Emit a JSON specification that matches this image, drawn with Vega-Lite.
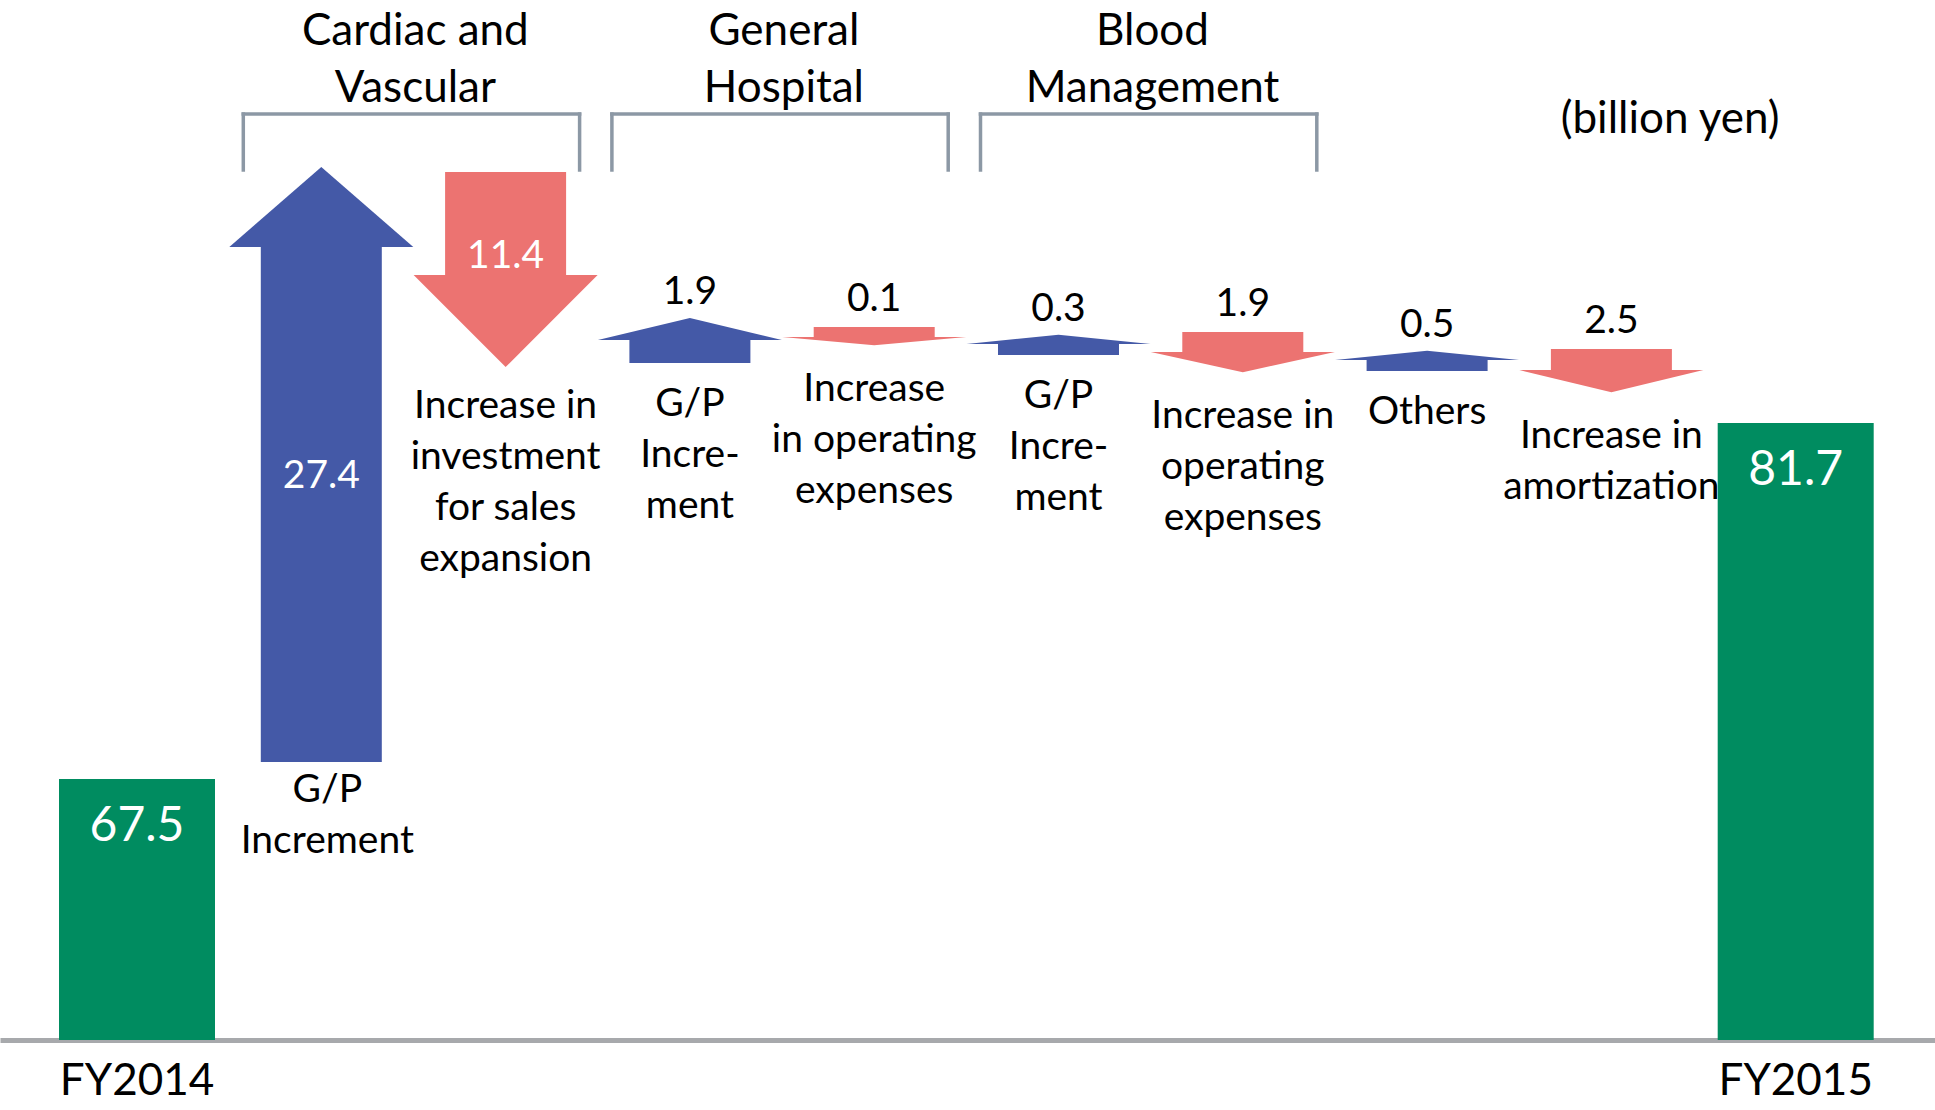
{
  "$schema": "https://vega.github.io/schema/vega-lite/v6.json",
  "width": 1935,
  "height": 1040,
  "autosize": {"type": "none"},
  "padding": {"left": 0, "top": 0, "right": 0, "bottom": 70},
  "background": "white",
  "config": {
    "view": {"stroke": null},
    "font": "Lato",
    "axisX": {
      "domain": true, "domainColor": "#A7A9AC", "domainWidth": 5,
      "ticks": false, "tickSize": 0, "grid": false,
      "labelExpr": "indexof(datum.label, 'FY') === 0 ? datum.label : ''",
      "labelFont": "Lato", "labelFontSize": 44, "labelColor": "#000000",
      "labelPadding": 54, "labelBaseline": "alphabetic", "labelAngle": 0,
      "labelOverlap": false, "labelBound": false, "labelFlush": false, "labelLimit": 0
    },
    "axisY": {
      "domain": false, "ticks": false, "labels": false, "grid": false,
      "titleAngle": 0, "titleX": 1779, "titleY": 132, "titleAlign": "right",
      "titleBaseline": "alphabetic", "titleFont": "Lato", "titleFontSize": 44,
      "titleFontWeight": "normal", "titleColor": "#000000"
    }
  },
  "datasets": {
    "steps": [
      {"step": "FY2014", "kind": "Total", "lines": "FY2014", "amount": 67.5},
      {"step": "Cardiac and Vascular: G/P Increment", "kind": "Increase", "lines": "G/P\nIncrement", "amount": 27.4, "start": 68.18, "neck": 88.72, "end": 91.91},
      {"step": "Cardiac and Vascular: Increase in investment for sales expansion", "kind": "Decrease", "lines": "Increase in\ninvestment\nfor sales\nexpansion", "amount": 11.4, "start": 91.71, "neck": 87.6, "end": 83.93},
      {"step": "General Hospital: G/P Increment", "kind": "Increase", "lines": "G/P\nIncre-\nment", "amount": 1.9, "start": 84.09, "neck": 85.01, "end": 85.89},
      {"step": "General Hospital: Increase in operating expenses", "kind": "Decrease", "lines": "Increase\nin operating\nexpenses", "amount": 0.1, "start": 85.53, "neck": 85.13, "end": 84.81},
      {"step": "Blood Management: G/P Increment", "kind": "Increase", "lines": "G/P\nIncre-\nment", "amount": 0.3, "start": 84.41, "neck": 84.85, "end": 85.21},
      {"step": "Blood Management: Increase in operating expenses", "kind": "Decrease", "lines": "Increase in\noperating\nexpenses", "amount": 1.9, "start": 85.33, "neck": 84.53, "end": 83.73},
      {"step": "Others", "kind": "Increase", "lines": "Others", "amount": 0.5, "start": 83.77, "neck": 84.21, "end": 84.57},
      {"step": "Increase in amortization", "kind": "Decrease", "lines": "Increase in\namortization", "amount": 2.5, "start": 84.65, "neck": 83.81, "end": 82.93},
      {"step": "FY2015", "kind": "Total", "lines": "FY2015", "amount": 81.7}
    ],
    "groups": [
      {"group": "Cardiac and Vascular", "lines": "Cardiac and\nVascular", "first": "Cardiac and Vascular: G/P Increment", "last": "Cardiac and Vascular: Increase in investment for sales expansion"},
      {"group": "General Hospital", "lines": "General\nHospital", "first": "General Hospital: G/P Increment", "last": "General Hospital: Increase in operating expenses"},
      {"group": "Blood Management", "lines": "Blood\nManagement", "first": "Blood Management: G/P Increment", "last": "Blood Management: Increase in operating expenses"}
    ]
  },
  "layer": [
    {
      "data": {"name": "steps"},
      "transform": [{"filter": "datum.kind === 'Total'"}],
      "mark": {"type": "bar", "width": 156},
      "encoding": {
        "x": {"field": "step", "type": "nominal", "title": null, "sort": null,
          "scale": {"type": "band", "paddingInner": 0, "paddingOuter": 0.2496, "align": 0.4875,
            "domain": ["FY2014", "Cardiac and Vascular: G/P Increment", "Cardiac and Vascular: Increase in investment for sales expansion", "General Hospital: G/P Increment", "General Hospital: Increase in operating expenses", "Blood Management: G/P Increment", "Blood Management: Increase in operating expenses", "Others", "Increase in amortization", "FY2015"]}},
        "y": {"field": "amount", "type": "quantitative", "title": "(billion yen)", "scale": {"domain": [57.09, 98.57], "nice": false, "zero": false}},
        "y2": {"datum": 57.09},
        "color": {"field": "kind", "type": "nominal", "legend": null, "scale": {"domain": ["Total", "Increase", "Decrease"], "range": ["#008C60", "#4459A7", "#EC7371"]}}
      }
    },
    {
      "data": {"name": "steps"},
      "transform": [{"filter": "datum.kind !== 'Total'"}],
      "mark": {"type": "bar", "width": 121},
      "encoding": {
        "x": {"field": "step", "type": "nominal", "title": null, "sort": null},
        "y": {"field": "start", "type": "quantitative", "title": "(billion yen)"},
        "y2": {"field": "neck"},
        "color": {"field": "kind", "type": "nominal", "legend": null}
      }
    },
    {
      "data": {"name": "steps"},
      "transform": [{"filter": "datum.kind !== 'Total'"}],
      "mark": {"type": "point", "filled": true, "opacity": 1, "strokeWidth": 0, "size": 33856},
      "encoding": {
        "x": {"field": "step", "type": "nominal", "title": null, "sort": null},
        "y": {"field": "neck", "type": "quantitative", "title": "(billion yen)"},
        "color": {"field": "kind", "type": "nominal", "legend": null},
        "shape": {"field": "step", "type": "nominal", "legend": null,
          "scale": {
            "domain": ["Cardiac and Vascular: G/P Increment", "Cardiac and Vascular: Increase in investment for sales expansion", "General Hospital: G/P Increment", "General Hospital: Increase in operating expenses", "Blood Management: G/P Increment", "Blood Management: Increase in operating expenses", "Others", "Increase in amortization"],
            "range": ["M-1,0L1,0L0,-0.87Z", "M-1,0L1,0L0,1Z", "M-1,0L1,0L0,-0.24Z", "M-1,0L1,0L0,0.09Z", "M-1,0L1,0L0,-0.1Z", "M-1,0L1,0L0,0.22Z", "M-1,0L1,0L0,-0.1Z", "M-1,0L1,0L0,0.24Z"]
          }}
      }
    },
    {
      "data": {"name": "steps"},
      "transform": [{"filter": "datum.kind === 'Total'"}],
      "mark": {"type": "text", "color": "#FFFFFF", "fontSize": 48, "baseline": "alphabetic", "align": "center", "dy": 62},
      "encoding": {
        "x": {"field": "step", "type": "nominal", "title": null, "sort": null},
        "y": {"field": "amount", "type": "quantitative", "title": "(billion yen)"},
        "text": {"field": "amount", "type": "quantitative", "format": ".1f"}
      }
    },
    {
      "data": {"name": "steps"},
      "transform": [{"filter": "datum.kind === 'Increase' && datum.amount > 5"}],
      "mark": {"type": "text", "color": "#FFFFFF", "fontSize": 39, "baseline": "middle", "align": "center", "dy": -286},
      "encoding": {
        "x": {"field": "step", "type": "nominal", "title": null, "sort": null},
        "y": {"field": "start", "type": "quantitative", "title": "(billion yen)"},
        "text": {"field": "amount", "type": "quantitative", "format": ".1f"}
      }
    },
    {
      "data": {"name": "steps"},
      "transform": [{"filter": "datum.kind === 'Decrease' && datum.amount > 5"}],
      "mark": {"type": "text", "color": "#FFFFFF", "fontSize": 39, "baseline": "middle", "align": "center", "dy": 84},
      "encoding": {
        "x": {"field": "step", "type": "nominal", "title": null, "sort": null},
        "y": {"field": "start", "type": "quantitative", "title": "(billion yen)"},
        "text": {"field": "amount", "type": "quantitative", "format": ".1f"}
      }
    },
    {
      "data": {"name": "steps"},
      "transform": [{"filter": "datum.kind === 'Increase' && datum.amount <= 5"}],
      "mark": {"type": "text", "color": "#000000", "fontSize": 39, "baseline": "alphabetic", "align": "center", "dy": -14},
      "encoding": {
        "x": {"field": "step", "type": "nominal", "title": null, "sort": null},
        "y": {"field": "end", "type": "quantitative", "title": "(billion yen)"},
        "text": {"field": "amount", "type": "quantitative", "format": ".1f"}
      }
    },
    {
      "data": {"name": "steps"},
      "transform": [{"filter": "datum.kind === 'Decrease' && datum.amount <= 5"}],
      "mark": {"type": "text", "color": "#000000", "fontSize": 39, "baseline": "alphabetic", "align": "center", "dy": -16},
      "encoding": {
        "x": {"field": "step", "type": "nominal", "title": null, "sort": null},
        "y": {"field": "start", "type": "quantitative", "title": "(billion yen)"},
        "text": {"field": "amount", "type": "quantitative", "format": ".1f"}
      }
    },
    {
      "data": {"name": "steps"},
      "transform": [{"filter": "datum.kind === 'Increase' && datum.amount > 5"}],
      "mark": {"type": "text", "color": "#000000", "fontSize": 39, "baseline": "alphabetic", "align": "center", "dy": 40, "dx": 6, "lineBreak": "\n", "lineHeight": 51},
      "encoding": {
        "x": {"field": "step", "type": "nominal", "title": null, "sort": null},
        "y": {"field": "start", "type": "quantitative", "title": "(billion yen)"},
        "text": {"field": "lines", "type": "nominal"}
      }
    },
    {
      "data": {"name": "steps"},
      "transform": [{"filter": "datum.kind === 'Increase' && datum.amount <= 5"}],
      "mark": {"type": "text", "color": "#000000", "fontSize": 39, "baseline": "alphabetic", "align": "center", "dy": 53, "lineBreak": "\n", "lineHeight": 51},
      "encoding": {
        "x": {"field": "step", "type": "nominal", "title": null, "sort": null},
        "y": {"field": "start", "type": "quantitative", "title": "(billion yen)"},
        "text": {"field": "lines", "type": "nominal"}
      }
    },
    {
      "data": {"name": "steps"},
      "transform": [{"filter": "datum.kind === 'Decrease' && datum.amount > 5"}],
      "mark": {"type": "text", "color": "#000000", "fontSize": 39, "baseline": "alphabetic", "align": "center", "dy": 51, "lineBreak": "\n", "lineHeight": 51},
      "encoding": {
        "x": {"field": "step", "type": "nominal", "title": null, "sort": null},
        "y": {"field": "end", "type": "quantitative", "title": "(billion yen)"},
        "text": {"field": "lines", "type": "nominal"}
      }
    },
    {
      "data": {"name": "steps"},
      "transform": [{"filter": "datum.kind === 'Decrease' && datum.amount <= 5"}],
      "mark": {"type": "text", "color": "#000000", "fontSize": 39, "baseline": "alphabetic", "align": "center", "dy": 56, "lineBreak": "\n", "lineHeight": 51},
      "encoding": {
        "x": {"field": "step", "type": "nominal", "title": null, "sort": null},
        "y": {"field": "end", "type": "quantitative", "title": "(billion yen)"},
        "text": {"field": "lines", "type": "nominal"}
      }
    },
    {
      "data": {"name": "groups"},
      "mark": {"type": "rule", "color": "#8C98A5", "strokeWidth": 3.5, "strokeCap": "square", "xOffset": -78, "x2Offset": 74},
      "encoding": {
        "x": {"field": "first", "type": "nominal", "title": null, "sort": null},
        "x2": {"field": "last"},
        "y": {"datum": 94.02, "type": "quantitative", "title": "(billion yen)"}
      }
    },
    {
      "data": {"name": "groups"},
      "mark": {"type": "rule", "color": "#8C98A5", "strokeWidth": 3.5, "strokeCap": "square", "xOffset": -78},
      "encoding": {
        "x": {"field": "first", "type": "nominal", "title": null, "sort": null},
        "y": {"datum": 94.02, "type": "quantitative", "title": "(billion yen)"},
        "y2": {"datum": 91.79}
      }
    },
    {
      "data": {"name": "groups"},
      "mark": {"type": "rule", "color": "#8C98A5", "strokeWidth": 3.5, "strokeCap": "square", "xOffset": 74},
      "encoding": {
        "x": {"field": "last", "type": "nominal", "title": null, "sort": null},
        "y": {"datum": 94.02, "type": "quantitative", "title": "(billion yen)"},
        "y2": {"datum": 91.79}
      }
    },
    {
      "data": {"name": "groups"},
      "mark": {"type": "text", "color": "#000000", "fontSize": 44, "baseline": "alphabetic", "align": "center", "dx": 94, "lineBreak": "\n", "lineHeight": 57},
      "encoding": {
        "x": {"field": "first", "type": "nominal", "title": null, "sort": null},
        "y": {"datum": 96.78, "type": "quantitative", "title": "(billion yen)"},
        "text": {"field": "lines", "type": "nominal"}
      }
    }
  ]
}
